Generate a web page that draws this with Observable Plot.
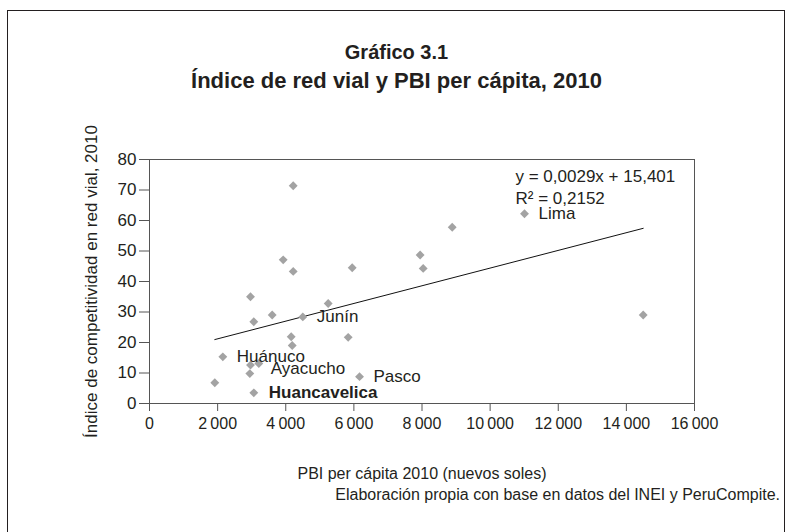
<!DOCTYPE html>
<html>
<head>
<meta charset="utf-8">
<script src="https://cdn.jsdelivr.net/npm/d3@7"></script>
<script src="https://cdn.jsdelivr.net/npm/@observablehq/plot@0.6"></script>
<style>
  html, body { margin: 0; padding: 0; background: #fff; overflow: hidden; }
  #page { position: relative; width: 793px; height: 532px; overflow: hidden;
          font-family: "Liberation Sans", Arial, Helvetica, sans-serif; color: #231f20; }
  #frame { position: absolute; left: 7px; top: 10px; width: 778px; height: 540px;
           border: 1.5px solid #231f20; box-sizing: border-box; }
  .title { position: absolute; left: 0; width: 793px; text-align: center; font-weight: bold; margin: 0; line-height: 1.15; }
  #t1 { top: 41px; font-size: 20px; }
  #t2 { top: 68px; font-size: 22px; }
  #chart { position: absolute; left: 0; top: 110px; }
  #cap { position: absolute; right: 13px; top: 486px; font-size: 16px; line-height: 18px; margin: 0; }
</style>
</head>
<body>
<div id="page">
  <div id="frame"></div>
  <p class="title" id="t1">Gráfico 3.1</p>
  <p class="title" id="t2">Índice de red vial y PBI per cápita, 2010</p>
  <div id="chart"></div>
  <p id="cap">Elaboración propia con base en datos del INEI y PeruCompite.</p>
</div>
<script>
// ---- data ----
const names  = ["Lima", "", "", "", "", "", "", "", "", "", "", "", "Junín", "", "", "", "", "Huánuco", "", "Ayacucho", "", "", "Huancavelica", "Pasco"];
const pbi    = [11009, 14494, 8887, 7945, 8035, 4219, 3925, 4219, 5951, 2965, 5246, 3602, 4501, 3062, 4160, 5833, 4190, 2153, 2965, 3209, 2945, 1917, 3062, 6166];
const indice = [62.2, 29.0, 57.8, 48.7, 44.3, 71.4, 47.1, 43.3, 44.5, 35.0, 32.8, 29.0, 28.4, 26.8, 21.9, 21.7, 19.0, 15.3, 12.6, 13.1, 9.8, 6.8, 3.5, 8.8];
const xTicks = [0, 2000, 4000, 6000, 8000, 10000, 12000, 14000, 16000];
const yTicks = [0, 10, 20, 30, 40, 50, 60, 70, 80];
const slope = 0.0029;
const intercept = 15.401;
const r2 = 0.2152;
const xTitle = "PBI per cápita 2010 (nuevos soles)";
const yTitle = "Índice de competitividad en red vial, 2010";

// ---- derived tables ----
const data = names.map((n, i) => ({name: n, x: pbi[i], y: indice[i]}));
const x0 = d3.min(pbi), x1 = d3.max(pbi);
const reg = [{x: x0, y: slope * x0 + intercept}, {x: x1, y: slope * x1 + intercept}];
const comma = v => String(v).replace(".", ",");
const eqText = `y = ${comma(slope)}x + ${comma(intercept)}\nR² = ${comma(r2)}`;
const locale = d3.formatLocale({decimal: ",", thousands: "\u2009", grouping: [3], currency: ["", ""]});
const fmt = locale.format(",d");

const plainLabels = data.filter(d => d.name && d.name !== "Huancavelica" && d.name !== "Ayacucho");
const ayacucho = data.filter(d => d.name === "Ayacucho");
const huanca = data.filter(d => d.name === "Huancavelica");

const ink = "#231f20";
const axisGray = "#555";

const chart = Plot.plot({
  width: 793,
  height: 380,
  marginTop: 49,
  marginBottom: 87,
  marginLeft: 149,
  marginRight: 99,
  style: {fontFamily: "Liberation Sans, Arial, Helvetica, sans-serif", fontSize: "16px", color: ink, background: "transparent"},
  x: {domain: [0, 16000]},
  y: {domain: [0, 80]},
  marks: [
    Plot.frame({stroke: axisGray, strokeWidth: 1}),
    Plot.axisX({ticks: xTicks, tickFormat: fmt, tickSize: 8, tickPadding: 6, stroke: axisGray, fill: ink,
                fontSize: 16, label: xTitle, labelAnchor: "center", labelOffset: 75, labelArrow: "none"}),
    Plot.axisY({ticks: yTicks, tickSize: 10, tickPadding: 3, stroke: axisGray, fill: ink,
                fontSize: 17, label: yTitle, labelAnchor: "center", labelOffset: 65, labelArrow: "none"}),
    Plot.line(reg, {x: "x", y: "y", stroke: "#111", strokeWidth: 1}),
    Plot.dot(data, {x: "x", y: "y", symbol: "diamond2", r: 4, fill: "#a3a3a3", stroke: "none"}),
    Plot.text(plainLabels, {x: "x", y: "y", text: "name", textAnchor: "start", dx: 14, fill: ink, fontSize: 17}),
    Plot.text(ayacucho, {x: "x", y: "y", text: "name", textAnchor: "start", dx: 12, dy: 5, fill: ink, fontSize: 17}),
    Plot.text(huanca, {x: "x", y: "y", text: "name", textAnchor: "start", dx: 15, fill: ink, fontSize: 17, fontWeight: "bold"}),
    Plot.text([eqText], {frameAnchor: "top-right", textAnchor: "start", lineAnchor: "top", dx: -179, dy: 7,
                         lineHeight: 1.28, fill: ink, fontSize: 17})
  ]
});
document.getElementById("chart").appendChild(chart);
</script>
</body>
</html>
